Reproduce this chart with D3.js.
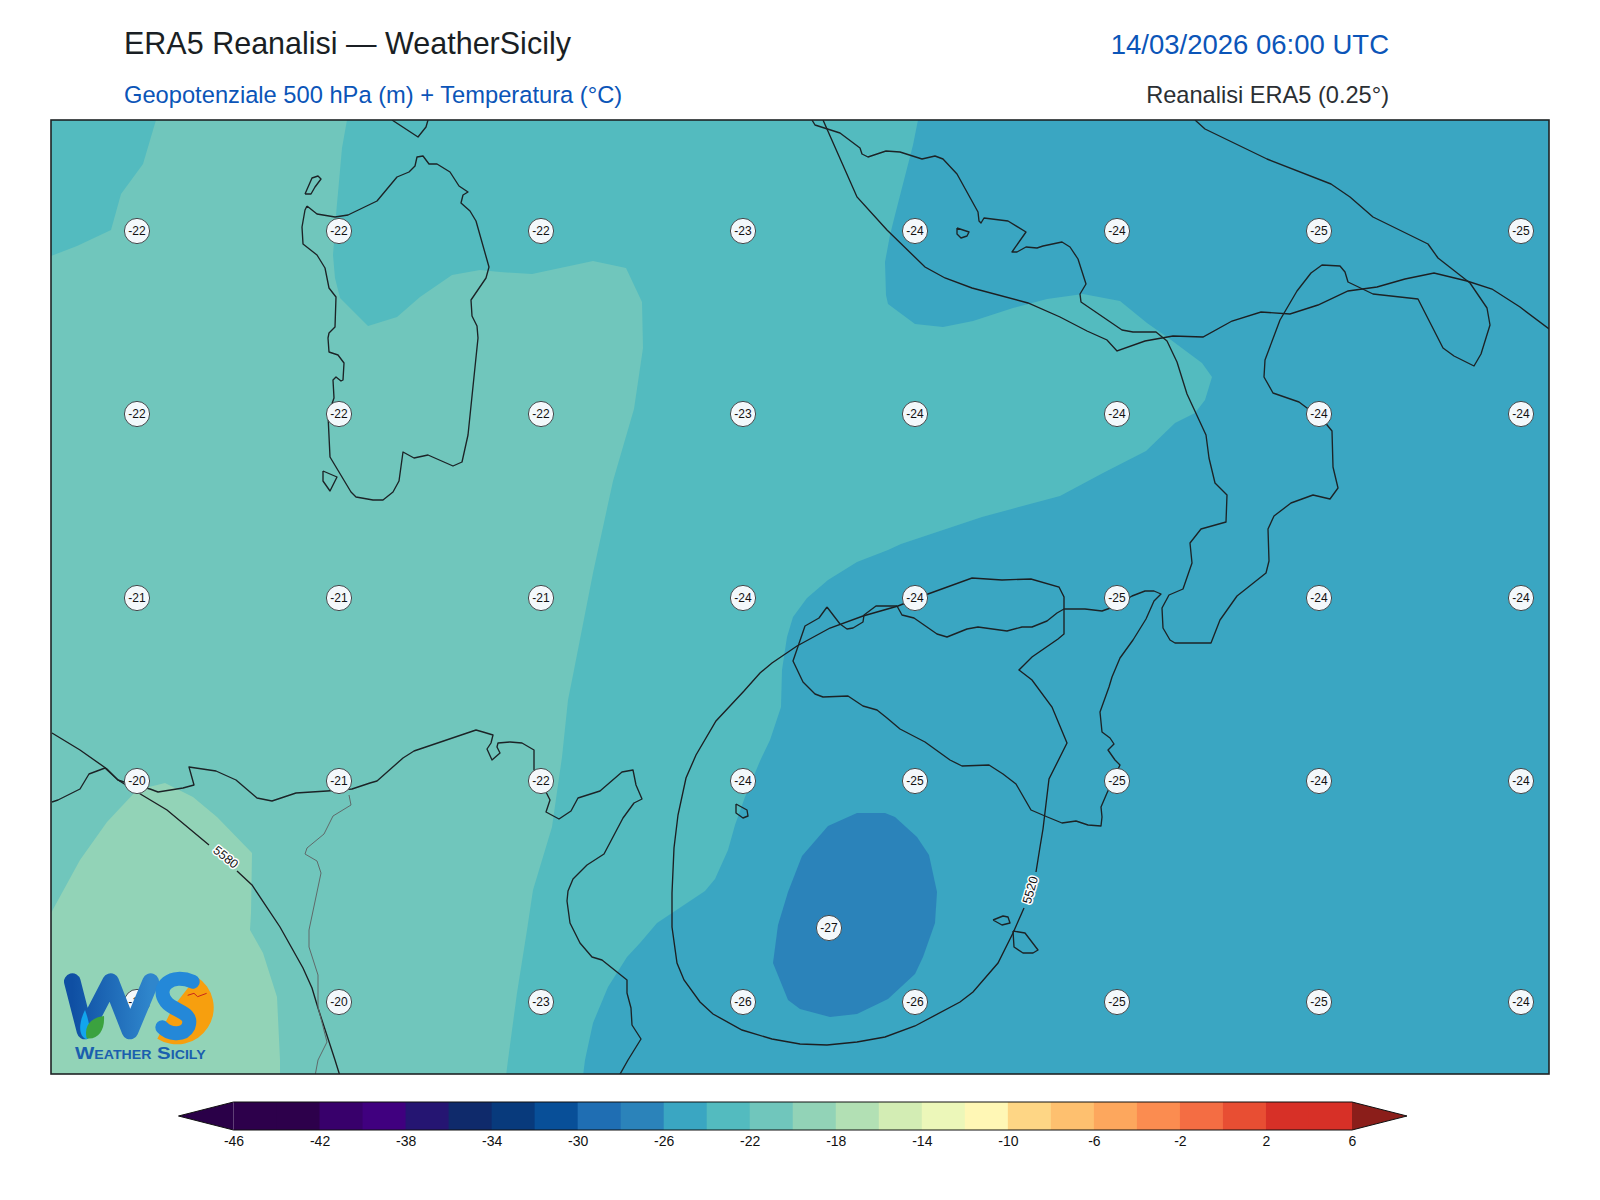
<!DOCTYPE html>
<html><head><meta charset="utf-8">
<script src="https://cdn.jsdelivr.net/npm/d3@7/dist/d3.min.js"></script>
<style>html,body{margin:0;background:#fff}svg{display:block}text{font-family:"Liberation Sans",Arial,sans-serif}</style>
</head><body><svg id="c" width="1600" height="1200"></svg>
<script>
// ---- data: map grid units (east, north) measured from the map's SW corner
const gridE = [0, 1498], gridN = [2, 956];
const band23 = [[867,956],[862,931],[844,861],[839,841],[834,814],[835,781],[837,772],[864,752],[892,749],[922,755],[962,768],[996,777],[1032,782],[1069,775],[1096,753],[1116,739],[1151,713],[1161,699],[1154,676],[1144,663],[1124,653],[1095,625],[1052,603],[1009,580],[931,559],[850,532],[837,526],[806,514],[777,496],[756,478],[742,459],[736,439],[731,406],[730,369],[719,336],[709,315],[694,279],[684,251],[677,226],[664,197],[654,185],[606,153],[589,133],[576,119],[557,89],[542,53],[534,16],[532,0],[0,0],[0,956]];
const band21 = [[0,820],[26,830],[60,846],[70,882],[92,912],[105,956],[296,956],[291,928],[285,861],[282,821],[284,798],[289,778],[317,750],[346,759],[369,779],[401,801],[429,806],[449,804],[481,802],[542,815],[575,808],[591,774],[592,728],[583,667],[562,595],[542,503],[522,401],[517,376],[511,319],[501,249],[482,186],[476,146],[466,83],[457,16],[455,0],[0,0]];
const band19 = [[0,163],[29,216],[56,254],[86,286],[114,293],[142,279],[166,259],[201,223],[200,163],[199,146],[212,123],[226,79],[229,16],[229,0],[0,0]];
const band27 = [[806,263],[834,263],[844,259],[866,239],[878,221],[886,184],[884,153],[872,119],[864,102],[837,77],[806,62],[779,59],[749,67],[737,76],[722,113],[727,151],[737,184],[751,220],[777,250]];

const sardinia = [[256,870],[266,862],[284,859],[297,861],[326,875],[346,899],[358,904],[364,910],[366,919],[372,920],[378,912],[386,912],[399,904],[408,890],[417,884],[412,881],[410,873],[419,865],[425,855],[438,809],[435,798],[420,776],[421,760],[426,750],[427,738],[417,641],[411,614],[402,610],[377,621],[363,618],[352,624],[348,595],[342,584],[332,576],[322,576],[305,579],[300,584],[279,619],[277,661],[283,678],[282,696],[285,699],[290,695],[292,696],[293,713],[287,721],[278,724],[277,738],[278,743],[284,749],[285,779],[278,788],[274,808],[266,821],[252,832],[251,849],[254,866],[256,870]];
const asinara = [[254,882],[261,898],[267,900],[270,897],[264,889],[260,882],[254,882]];
const sanPietro = [[272,605],[286,599],[279,585],[272,595],[272,605]];
const corsica = [[341,956],[367,939],[375,949],[377,956]];
const ischia = [[906,848],[918,844],[916,840],[910,838],[906,842],[906,848]];
const pantelleria = [[685,272],[696,266],[697,260],[692,258],[685,263],[685,272]];
const gozo = [[942,156],[952,160],[957,159],[959,153],[951,151],[942,156]];
const malta = [[962,145],[974,143],[987,126],[982,123],[972,123],[963,129],[962,145]];
const italy = [[761,956],[764,951],[789,943],[809,928],[811,922],[817,919],[835,925],[849,924],[871,917],[884,920],[892,917],[906,902],[927,864],[928,855],[930,853],[933,858],[957,855],[975,844],[961,824],[966,824],[975,829],[986,828],[992,830],[1011,834],[1019,829],[1027,817],[1035,792],[1029,782],[1030,774],[1071,746],[1082,744],[1105,744],[1116,735],[1126,714],[1136,682],[1155,641],[1158,618],[1164,593],[1176,581],[1175,554],[1150,547],[1139,533],[1141,513],[1132,487],[1118,481],[1111,468],[1112,448],[1119,436],[1124,433],[1160,433],[1169,456],[1186,480],[1215,503],[1218,515],[1217,547],[1223,560],[1240,573],[1262,581],[1279,577],[1287,588],[1282,609],[1281,645],[1272,656],[1248,674],[1222,683],[1213,699],[1214,716],[1229,756],[1246,785],[1260,803],[1271,811],[1289,810],[1294,804],[1297,794],[1322,782],[1367,777],[1392,728],[1403,720],[1423,710],[1430,722],[1439,751],[1436,768],[1419,793],[1387,818],[1377,832],[1322,859],[1299,879],[1280,892],[1216,917],[1154,947],[1144,956]];
const sicily = [[776,469],[789,452],[796,447],[802,448],[812,454],[813,461],[825,470],[846,470],[851,461],[863,458],[886,442],[896,439],[916,447],[927,449],[956,445],[971,449],[981,449],[996,455],[1006,463],[1013,467],[1034,467],[1051,465],[1065,470],[1081,480],[1094,485],[1103,485],[1110,482],[1103,475],[1095,457],[1082,436],[1069,418],[1061,399],[1058,389],[1049,364],[1051,344],[1059,338],[1063,332],[1057,326],[1064,316],[1069,311],[1056,283],[1050,269],[1051,259],[1050,250],[1037,251],[1025,255],[1011,253],[994,260],[980,266],[965,292],[952,302],[938,311],[911,310],[899,316],[874,334],[849,347],[836,358],[826,366],[812,370],[797,380],[772,379],[764,382],[752,394],[742,415],[754,450],[768,458],[776,469]];
const africa = [[1,274],[7,276],[29,287],[38,302],[54,308],[67,296],[73,294],[99,287],[107,284],[132,288],[143,291],[138,309],[165,305],[185,296],[206,278],[221,275],[245,283],[276,285],[301,287],[319,293],[326,295],[352,318],[363,325],[425,346],[432,344],[442,341],[440,333],[436,327],[441,316],[449,323],[446,329],[447,333],[459,334],[471,333],[483,326],[483,306],[496,282],[499,276],[495,264],[508,257],[520,265],[527,278],[549,285],[571,304],[582,306],[585,291],[591,277],[583,273],[572,258],[553,222],[536,211],[522,197],[517,185],[516,175],[519,153],[529,133],[541,119],[551,116],[576,96],[576,83],[580,68],[581,51],[590,37],[577,16],[568,0]];
const border = [[298,281],[300,271],[282,260],[273,242],[256,228],[254,222],[266,215],[270,203],[258,146],[258,129],[267,101],[267,69],[276,34],[267,16],[264,0]];

const iso5580a = [[1,343],[29,326],[56,307],[67,296],[91,281],[116,266],[158,231]];
const iso5580b = [[186,205],[201,191],[229,149],[252,108],[261,88],[267,68],[284,16],[289,0]];
const iso5520a = [[985,204],[989,229],[992,247],[998,297],[1016,333],[1001,369],[981,396],[968,406],[981,419],[1007,437],[1013,442],[1013,479],[1008,489],[980,497],[951,496],[921,498],[877,482],[847,470],[812,460],[779,448],[746,430],[721,413],[709,403],[693,385],[665,355],[645,321],[635,298],[627,261],[623,228],[621,183],[621,149],[626,113],[633,96],[649,74],[662,62],[691,46],[721,37],[749,32],[776,31],[806,34],[834,39],[864,50],[909,74],[922,84],[947,113],[962,143],[973,168]];
const isoNorth = [[772,956],[806,879],[836,846],[874,809],[894,798],[921,788],[977,773],[1009,759],[1036,745],[1056,736],[1066,725],[1094,735],[1122,740],[1152,739],[1181,755],[1210,764],[1239,762],[1267,771],[1297,785],[1326,789],[1354,797],[1383,803],[1416,795],[1441,787],[1469,769],[1502,744]];
const isoLabels = [["5580",175,219,39],["5520",979,186,-74]];

const colE = [86,288,490,692,864,1066,1268,1470];
const rowN = [845,662,478,295,74];
const temps = [
 [-22,-22,-22,-23,-24,-24,-25,-25],
 [-22,-22,-22,-23,-24,-24,-24,-24],
 [-21,-21,-21,-24,-24,-25,-24,-24],
 [-20,-21,-22,-24,-25,-25,-24,-24],
 [-19,-20,-23,-26,-26,-25,-25,-24]];
const extraTemp = [[778,148,-27]];

const levels = d3.range(-46, 7, 2);
const levelColors = ["#2d004b","#2d004b","#38006b","#40007f","#251572","#0f2a6b","#083a7c","#084f98","#1f6eb3","#2b83ba","#3aa6c2","#53bbbf","#70c6bc","#92d3b7","#b2e0b4","#d3edb4","#ecf7b9","#fff7b5","#fed685","#fec06f","#fda75d","#fb8c50","#f46d43","#e84e33","#d73027","#d73027"];
const barTicks = d3.range(-46, 7, 4);
const titleLeft = "ERA5 Reanalisi — WeatherSicily";
const subLeft = "Geopotenziale 500 hPa (m) + Temperatura (°C)";
const titleRight = "14/03/2026 06:00 UTC";
const subRight = "Reanalisi ERA5 (0.25°)";

// ---- drawing
const svg = d3.select("#c");
const L=51,R=1549,T=120,B=1074;
const x = d3.scaleLinear().domain(gridE).range([L,R]);
const y = d3.scaleLinear().domain(gridN).range([B,T]);
const line = d3.line().x(d=>x(d[0])).y(d=>y(d[1]));
const colorOf = d3.scaleThreshold().domain(levels.slice(1)).range(levelColors);
const defs = svg.append("defs");
defs.append("clipPath").attr("id","mapclip").append("rect").attr("x",L).attr("y",T).attr("width",R-L).attr("height",B-T);

const map = svg.append("g").attr("clip-path","url(#mapclip)");
map.append("rect").attr("x",L).attr("y",T).attr("width",R-L).attr("height",B-T).attr("fill",colorOf(-25));
[[band23,-23],[band21,-21],[band19,-19],[band27,-27]].forEach(([p,v])=>{
  map.append("path").attr("d",line(p)+"Z").attr("fill",colorOf(v));
});
[iso5580a,iso5580b,iso5520a,isoNorth].forEach(p=>map.append("path").attr("d",line(p)).attr("fill","none").attr("stroke","#1c1f22").attr("stroke-width",1.35));
[sardinia,asinara,sanPietro,corsica,ischia,pantelleria,gozo,malta,italy,sicily,africa].forEach(p=>map.append("path").attr("d",line(p)).attr("fill","none").attr("stroke","#1c2326").attr("stroke-width",1.35).attr("stroke-linejoin","round"));
map.append("path").attr("d",line(border)).attr("fill","none").attr("stroke","#5f6a6a").attr("stroke-width",1);

isoLabels.forEach(([t,e,n,a])=>{
  map.append("text").attr("transform",`translate(${x(e)},${y(n)}) rotate(${a})`).attr("text-anchor","middle").attr("dy","0.36em")
   .attr("font-size",12.5).attr("fill","#111").attr("stroke","#fff").attr("stroke-width",3).attr("paint-order","stroke").attr("stroke-linejoin","round").text(t);
});

const pts = [];
temps.forEach((row,i)=>row.forEach((v,j)=>pts.push([colE[j],rowN[i],v])));
extraTemp.forEach(d=>pts.push(d));
const g = map.selectAll("g.t").data(pts).join("g").attr("class","t").attr("transform",d=>`translate(${x(d[0])},${y(d[1])})`);
g.append("circle").attr("r",12.6).attr("fill","#f3f8fb").attr("stroke","#454a4d").attr("stroke-width",1);
g.append("text").attr("text-anchor","middle").attr("dy","0.35em").attr("font-size",12).attr("fill","#111").text(d=>d[2]);

svg.append("rect").attr("x",L).attr("y",T).attr("width",R-L).attr("height",B-T).attr("fill","none").attr("stroke","#1f2325").attr("stroke-width",1.6);

// logo (decorative, drawn in the badge's own units)
const lg = svg.append("g").attr("transform","translate(40,930) scale(0.3333)");
const gr = defs.append("linearGradient").attr("id","wg").attr("x1","0").attr("x2","1").attr("y1","0").attr("y2","0");
gr.append("stop").attr("offset","0").attr("stop-color","#0f4fa3");
gr.append("stop").attr("offset","1").attr("stop-color","#2f86cc");
lg.append("path").attr("d","M470 140 A108 108 0 0 1 352 326 L400 230Z").attr("fill","#f79f0e");
lg.append("path").attr("d","M97 155 L135 303 L212 155 L270 303 L332 155").attr("fill","none").attr("stroke","url(#wg)").attr("stroke-width",50).attr("stroke-linecap","round").attr("stroke-linejoin","round");
lg.append("path").attr("d","M135 240 C115 280 115 320 140 328 C155 320 150 280 135 240Z").attr("fill","#12a5ec");
lg.append("path").attr("d","M140 325 C130 280 160 262 192 258 C195 300 175 330 140 325Z").attr("fill","#3ba23f");
lg.append("path").attr("d","M458 155 C395 128 345 170 378 215 C402 246 462 245 445 290 C430 320 385 312 367 292").attr("fill","none").attr("stroke","#2488d8").attr("stroke-width",42).attr("stroke-linecap","round");
lg.append("path").attr("d","M443 196 L462 190 L473 200 L500 190").attr("fill","none").attr("stroke","#c8261a").attr("stroke-width",3);
lg.append("text").attr("x",105).attr("y",388).attr("textLength",392).attr("lengthAdjust","spacingAndGlyphs").attr("font-size",52).attr("font-weight","bold").attr("font-variant","small-caps").attr("fill","#1a5fae").text("Weather Sicily");

// titles
svg.append("text").attr("x",124).attr("y",54).attr("font-size",30.5).attr("fill","#1a1f24").text(titleLeft);
svg.append("text").attr("x",124).attr("y",103).attr("font-size",23.7).attr("fill","#0b55b8").text(subLeft);
svg.append("text").attr("x",1389).attr("y",54).attr("text-anchor","end").attr("font-size",27.5).attr("fill","#0b55b8").text(titleRight);
svg.append("text").attr("x",1389).attr("y",103).attr("text-anchor","end").attr("font-size",23.6).attr("fill","#2b2f33").text(subRight);

// colorbar
const cb = d3.scaleLinear().domain([-46,6]).range([233.5,1352]);
const cT=1102, cH=28, tipL=178.5, tipR=1407;
const cg = svg.append("g");
cg.selectAll("rect").data(levelColors).join("rect").attr("x",(d,i)=>cb(levels[i])).attr("y",cT).attr("width",(d,i)=>cb(levels[i]+2)-cb(levels[i])+0.5).attr("height",cH).attr("fill",d=>d);
cg.append("path").attr("d",`M${cb(-46)} ${cT}L${tipL} ${cT+cH/2}L${cb(-46)} ${cT+cH}Z`).attr("fill","#2a0048");
cg.append("path").attr("d",`M${cb(6)} ${cT}L${tipR} ${cT+cH/2}L${cb(6)} ${cT+cH}Z`).attr("fill","#8b1e1a");
cg.append("path").attr("d",`M${cb(-46)} ${cT}L${tipL} ${cT+cH/2}L${cb(-46)} ${cT+cH}L${cb(6)} ${cT+cH}L${tipR} ${cT+cH/2}L${cb(6)} ${cT}Z`).attr("fill","none").attr("stroke","#111").attr("stroke-width",1);
const ax = svg.append("g").attr("transform",`translate(0,${cT+cH})`).call(d3.axisBottom(cb).tickValues(barTicks).tickSize(0).tickPadding(6).tickFormat(d=>d));
ax.select(".domain").remove();
ax.selectAll("text").attr("font-size",14).attr("font-family",'"Liberation Sans",Arial,sans-serif').attr("fill","#111");
</script></body></html>
